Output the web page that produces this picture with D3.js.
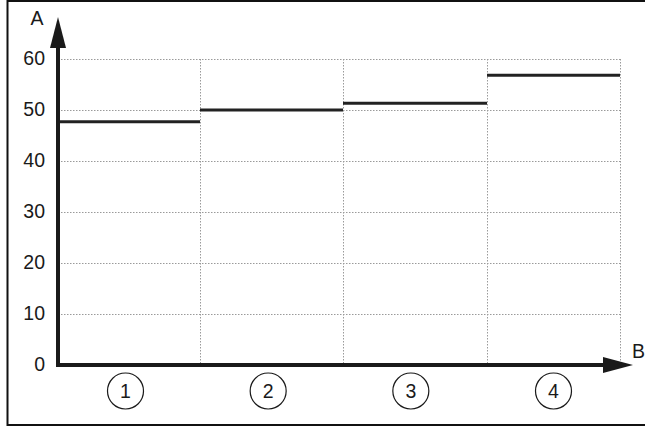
<!DOCTYPE html>
<html lang="en">
<head>
  <meta charset="UTF-8" />
  <title>Step chart</title>
  <script src="https://d3js.org/d3.v7.min.js"></script>
  <style>
    body { margin: 0; background: #fff; }
    svg { display: block; font-family: 'Liberation Sans', Arial, sans-serif; }
  </style>
</head>
<body>
  <svg width="645" height="427"></svg>
  <script>
    const categories = ["1", "2", "3", "4"];
    const values     = [47.7, 50, 51.3, 56.8];
    const yTicks     = [0, 10, 20, 30, 40, 50, 60];
    const yLabel = "A", xLabel = "B";
    const fs = 19.5;

    const svg = d3.select("svg");

    // outer frame (top, left, bottom only)
    svg.append("path")
      .attr("d", "M645,1 L7.5,1 L7.5,425 L645,425")
      .attr("fill", "none").attr("stroke", "#111").attr("stroke-width", 2);

    const x0 = 58;
    const y = d3.scaleLinear().domain([0, 60]).range([365, 59]);
    // vertical grid positions (category edges)
    const edges = [200, 343, 487, 620];
    const segStart = [x0, 200, 343, 487];

    const grid = svg.append("g")
      .attr("stroke", "#9a9a9a").attr("stroke-width", 1).attr("stroke-dasharray", "1.5,1.5");

    grid.selectAll("line.h").data(yTicks.filter(d => d > 0)).join("line")
      .attr("class", "h")
      .attr("x1", x0).attr("x2", 620)
      .attr("y1", d => Math.round(y(d)) + 0.5).attr("y2", d => Math.round(y(d)) + 0.5);

    grid.selectAll("line.v").data(edges).join("line")
      .attr("class", "v")
      .attr("x1", d => d + 0.5).attr("x2", d => d + 0.5)
      .attr("y1", y(60)).attr("y2", y(0));

    // step segments
    svg.append("g").selectAll("line").data(values).join("line")
      .attr("x1", (d, i) => segStart[i])
      .attr("x2", (d, i) => edges[i])
      .attr("y1", d => y(d)).attr("y2", d => y(d))
      .attr("stroke", "#222").attr("stroke-width", 3);

    // y tick labels
    svg.append("g").selectAll("text").data(yTicks).join("text")
      .attr("x", 45).attr("y", d => y(d) - 1)
      .attr("dy", "0.36em")
      .attr("text-anchor", "end")
      .attr("font-size", fs)
      .attr("fill", "#1a1a1a")
      .text(d => d);

    // axes with arrows
    svg.append("line")
      .attr("x1", x0).attr("x2", x0).attr("y1", 367).attr("y2", 45)
      .attr("stroke", "#1a1a1a").attr("stroke-width", 4);
    svg.append("path")
      .attr("d", `M${x0},17 L${x0 - 8},48 L${x0 + 8},48 Z`)
      .attr("fill", "#1a1a1a");

    svg.append("line")
      .attr("x1", x0 - 2).attr("x2", 606).attr("y1", 365).attr("y2", 365)
      .attr("stroke", "#1a1a1a").attr("stroke-width", 4);
    svg.append("path")
      .attr("d", `M633,365 L603,357 L603,373 Z`)
      .attr("fill", "#1a1a1a");

    svg.append("text").attr("x", 37).attr("y", 25)
      .attr("text-anchor", "middle").attr("font-size", fs).attr("fill", "#1a1a1a").text(yLabel);
    svg.append("text").attr("x", 632).attr("y", 358)
      .attr("font-size", fs).attr("fill", "#1a1a1a").text(xLabel);

    // category markers
    const cx = d3.scalePoint().domain(categories).range([125.5, 553.5]);
    const marks = svg.append("g").selectAll("g").data(categories).join("g")
      .attr("transform", d => `translate(${cx(d)},391)`);
    marks.append("circle").attr("r", 18)
      .attr("fill", "none").attr("stroke", "#1a1a1a").attr("stroke-width", 1.2);
    marks.append("text")
      .attr("text-anchor", "middle").attr("dy", "0.36em")
      .attr("font-size", fs).attr("fill", "#1a1a1a")
      .text(d => d);
  </script>
</body>
</html>
